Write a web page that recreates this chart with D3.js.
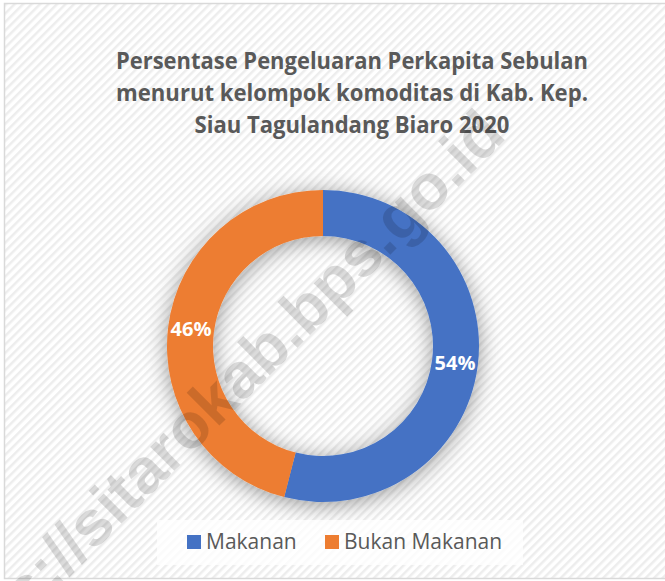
<!DOCTYPE html>
<html>
<head>
<meta charset="utf-8">
<script src="https://cdn.jsdelivr.net/npm/d3@7"></script>
<style>
  body { margin: 0; background: #fff; }
  svg { display: block; }
</style>
</head>
<body>
<div id="figure-container"></div>
<script>
var categories = ['Makanan', 'Bukan Makanan'];
var values = [54, 46];
var colors = ['#4472C4', '#ED7D31'];
var titleLines = [
  'Persentase Pengeluaran Perkapita Sebulan',
  'menurut kelompok komoditas di Kab. Kep.',
  'Siau Tagulandang Biaro 2020'
];
var titleWidths = [472, 472, 315];
var watermark = 'https://sitarokab.bps.go.id';

var fullWidth = 665;
var fullHeight = 581;
var cx = 323, cy = 346;
var outerR = 156, innerR = 110;

var svg = d3.select('#figure-container')
  .append('svg')
  .attr('width', fullWidth)
  .attr('height', fullHeight);

var defs = svg.append('defs');

// diagonal stripe background
var pat = defs.append('pattern')
  .attr('id', 'stripes')
  .attr('patternUnits', 'userSpaceOnUse')
  .attr('width', 6)
  .attr('height', 6)
  .attr('patternTransform', 'rotate(45)');
pat.append('rect').attr('width', 6).attr('height', 6).attr('fill', '#ffffff');
pat.append('rect').attr('width', 2.5).attr('height', 6).attr('fill', '#ededed');

var shadow = defs.append('filter')
  .attr('id', 'shadow')
  .attr('x', '-35%').attr('y', '-35%')
  .attr('width', '170%').attr('height', '170%');
shadow.append('feDropShadow')
  .attr('dx', 0).attr('dy', 3)
  .attr('stdDeviation', 11)
  .attr('flood-color', '#000')
  .attr('flood-opacity', 0.4);

svg.append('rect')
  .attr('x', 4.5).attr('y', 3.5)
  .attr('width', 662).attr('height', 575)
  .attr('fill', 'url(#stripes)')
  .attr('stroke', '#d9d9d9')
  .attr('stroke-width', 1.5);

// title
svg.append('g')
  .selectAll('text')
  .data(titleLines)
  .enter()
  .append('text')
  .attr('x', 352)
  .attr('y', function(d, i) { return 69 + i * 32; })
  .attr('text-anchor', 'middle')
  .attr('font-family', '"Open Sans", sans-serif')
  .attr('font-weight', 700)
  .attr('font-size', 23)
  .attr('fill', '#595959')
  .attr('textLength', function(d, i) { return titleWidths[i]; })
  .attr('lengthAdjust', 'spacingAndGlyphs')
  .text(function(d) { return d; });

// donut
var pie = d3.pie().sort(null).value(function(d) { return d; });
var arc = d3.arc().innerRadius(innerR).outerRadius(outerR);
var labelArc = d3.arc().innerRadius((innerR + outerR) / 2).outerRadius((innerR + outerR) / 2);
var arcs = pie(values);

var donut = svg.append('g')
  .attr('transform', 'translate(' + cx + ',' + cy + ')');

donut.append('g')
  .attr('filter', 'url(#shadow)')
  .selectAll('path')
  .data(arcs)
  .enter()
  .append('path')
  .attr('d', arc)
  .attr('fill', function(d, i) { return colors[i]; });

donut.selectAll('.label')
  .data(arcs)
  .enter()
  .append('text')
  .attr('class', 'label')
  .attr('transform', function(d) { return 'translate(' + labelArc.centroid(d) + ')'; })
  .attr('text-anchor', 'middle')
  .attr('dy', '0.35em')
  .attr('font-family', '"Open Sans", sans-serif')
  .attr('font-weight', 700)
  .attr('font-size', 20)
  .attr('fill', '#fff')
  .text(function(d) { return d.data + '%'; });

// legend
svg.append('rect')
  .attr('x', 157).attr('y', 520)
  .attr('width', 366).attr('height', 45)
  .attr('fill', '#fff')
  .attr('fill-opacity', 0.75);

var legendX = [187, 325];
var legend = svg.append('g')
  .selectAll('g')
  .data(categories)
  .enter()
  .append('g')
  .attr('transform', function(d, i) { return 'translate(' + legendX[i] + ',535)'; });

legend.append('rect')
  .attr('width', 14).attr('height', 14)
  .attr('fill', function(d, i) { return colors[i]; });

legend.append('text')
  .attr('x', 19).attr('y', 14)
  .attr('font-family', '"Open Sans", sans-serif')
  .attr('font-size', 21)
  .attr('fill', '#595959')
  .text(function(d) { return d; });

// watermark
svg.append('text')
  .attr('transform', 'translate(508,137) rotate(-45)')
  .attr('text-anchor', 'end')
  .attr('font-family', '"Liberation Sans", Arial, sans-serif')
  .attr('font-weight', 700)
  .attr('font-size', 64)
  .attr('fill', '#000')
  .attr('fill-opacity', 0.14)
  .text(watermark);
</script>
</body>
</html>
